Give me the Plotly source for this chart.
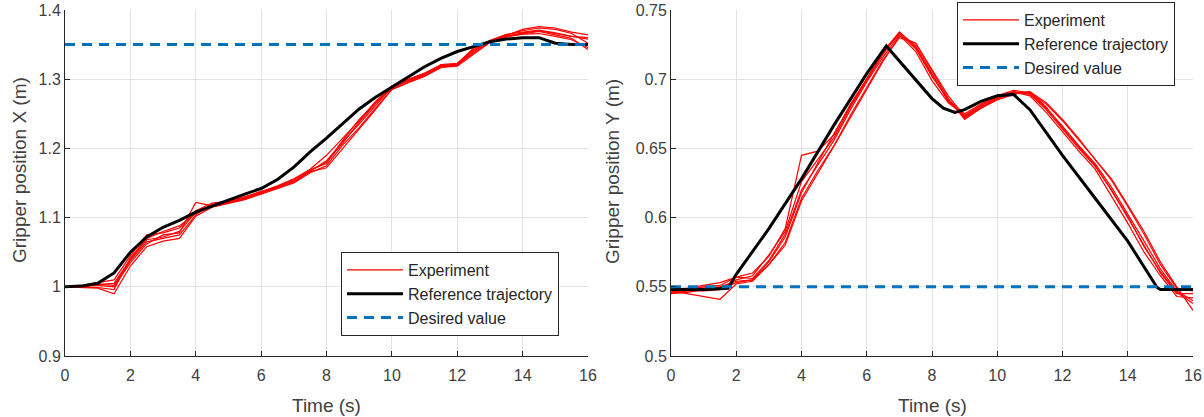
import plotly.graph_objects as go

# ---------------- data ----------------
t_exp = [0, 0.5, 1, 1.5, 2, 2.5, 3, 3.5, 4, 4.5, 5, 5.5, 6, 6.5, 7, 7.5, 8,
         8.5, 9, 9.5, 10, 10.5, 11, 11.5, 12, 12.5, 13, 13.5, 14, 14.5, 15, 15.5, 16]

# Gripper X (m) - experiments
x_exp1 = [1.000,1.002,1.006,1.010,1.045,1.075,1.078,1.085,1.110,1.121,1.124,1.130,1.138,1.145,1.155,1.170,1.190,1.215,1.240,1.268,1.290,1.300,1.309,1.320,1.322,1.345,1.356,1.364,1.370,1.374,1.372,1.366,1.352]
x_exp2 = [1.000,1.000,1.003,1.005,1.040,1.068,1.072,1.080,1.108,1.118,1.122,1.128,1.136,1.143,1.152,1.167,1.182,1.210,1.235,1.262,1.288,1.298,1.306,1.318,1.320,1.342,1.355,1.362,1.367,1.370,1.366,1.361,1.358]
x_exp3 = [1.000,0.999,0.998,0.990,1.030,1.058,1.066,1.070,1.102,1.115,1.120,1.126,1.134,1.142,1.150,1.165,1.175,1.205,1.230,1.258,1.285,1.295,1.304,1.317,1.321,1.338,1.354,1.363,1.372,1.376,1.374,1.368,1.364]
x_exp4 = [1.000,1.001,1.002,1.000,1.035,1.062,1.075,1.078,1.122,1.117,1.121,1.127,1.135,1.144,1.153,1.168,1.180,1.208,1.238,1.265,1.289,1.297,1.307,1.319,1.322,1.340,1.355,1.361,1.365,1.366,1.362,1.357,1.346]
x_exp5 = [1.000,1.000,0.999,0.996,1.042,1.070,1.080,1.088,1.106,1.116,1.123,1.129,1.137,1.146,1.156,1.169,1.178,1.212,1.242,1.266,1.287,1.299,1.308,1.321,1.323,1.343,1.356,1.365,1.368,1.371,1.367,1.362,1.360]
x_exp6 = [1.000,1.000,1.004,1.002,1.038,1.065,1.070,1.075,1.104,1.119,1.122,1.128,1.136,1.144,1.152,1.166,1.172,1.200,1.228,1.256,1.286,1.296,1.305,1.317,1.319,1.336,1.353,1.362,1.366,1.369,1.364,1.359,1.343]

# Gripper X reference trajectory
t_ref_x = t_exp
x_ref = [1.000,1.001,1.005,1.020,1.050,1.072,1.086,1.096,1.108,1.117,1.126,1.134,1.142,1.155,1.173,1.195,1.215,1.236,1.257,1.274,1.289,1.303,1.318,1.330,1.340,1.347,1.354,1.358,1.360,1.360,1.352,1.350,1.350]
x_desired = 1.35

# Gripper Y (m) - experiments
y_exp1 = [0.546,0.548,0.550,0.551,0.557,0.560,0.572,0.592,0.645,0.648,0.660,0.682,0.700,0.719,0.733,0.722,0.702,0.685,0.675,0.682,0.688,0.692,0.690,0.679,0.666,0.652,0.639,0.622,0.603,0.583,0.563,0.547,0.540]
y_exp2 = [0.545,0.546,0.548,0.549,0.555,0.558,0.573,0.590,0.626,0.642,0.658,0.680,0.699,0.718,0.734,0.724,0.704,0.684,0.673,0.681,0.687,0.691,0.689,0.678,0.664,0.650,0.637,0.620,0.600,0.580,0.560,0.545,0.545]
y_exp3 = [0.547,0.545,0.543,0.541,0.552,0.554,0.566,0.582,0.614,0.634,0.652,0.672,0.693,0.713,0.731,0.726,0.706,0.686,0.671,0.679,0.686,0.690,0.690,0.682,0.670,0.656,0.642,0.628,0.609,0.590,0.568,0.550,0.533]
y_exp4 = [0.548,0.549,0.551,0.553,0.557,0.556,0.569,0.588,0.620,0.638,0.656,0.678,0.698,0.716,0.732,0.720,0.699,0.683,0.674,0.681,0.687,0.691,0.688,0.676,0.662,0.648,0.635,0.616,0.596,0.575,0.558,0.543,0.542]
y_exp5 = [0.546,0.547,0.549,0.550,0.554,0.555,0.568,0.586,0.618,0.640,0.661,0.681,0.701,0.720,0.734,0.723,0.703,0.685,0.672,0.680,0.686,0.690,0.691,0.680,0.665,0.651,0.638,0.619,0.601,0.579,0.561,0.546,0.538]
y_exp6 = [0.545,0.547,0.547,0.548,0.553,0.555,0.566,0.580,0.612,0.632,0.652,0.674,0.694,0.714,0.730,0.726,0.707,0.688,0.673,0.679,0.685,0.689,0.691,0.683,0.671,0.657,0.642,0.627,0.608,0.588,0.566,0.549,0.547]

# Gripper Y reference trajectory
t_ref_y = [0, 1, 1.75, 2, 3, 4, 5, 6, 6.6, 7, 7.5, 8, 8.35, 8.7, 9, 9.5, 10, 10.5, 11, 12, 13, 14, 14.9, 15, 16]
y_ref = [0.548,0.548,0.549,0.559,0.592,0.628,0.667,0.704,0.724,0.713,0.699,0.686,0.679,0.676,0.678,0.684,0.688,0.689,0.678,0.645,0.614,0.583,0.5495,0.548,0.548]
y_desired = 0.55

x_ticks = [0, 2, 4, 6, 8, 10, 12, 14, 16]
left_ticks = [0.9, 1.0, 1.1, 1.2, 1.3, 1.4]
left_tick_text = ["0.9", "1", "1.1", "1.2", "1.3", "1.4"]
right_ticks = [0.5, 0.55, 0.6, 0.65, 0.7, 0.75]
right_tick_text = ["0.5", "0.55", "0.6", "0.65", "0.7", "0.75"]

# ---------------- figure ----------------
RED = "#ff0000"
BLUE = "#0072BD"
FONT = "Liberation Sans, Arial, sans-serif"
TXT = "#404040"

fig = go.Figure()

def add_panel(xa, ya, legend, exps, t_ref, ref, desired):
    for i, e in enumerate(exps):
        fig.add_trace(go.Scatter(
            x=t_exp, y=e, mode="lines", line=dict(color=RED, width=1.2),
            name="Experiment", legendgroup=legend + "exp", showlegend=(i == 0),
            xaxis=xa, yaxis=ya, legend=legend))
    fig.add_trace(go.Scatter(
        x=t_ref, y=ref, mode="lines", line=dict(color="#000000", width=3),
        name="Reference trajectory", xaxis=xa, yaxis=ya, legend=legend))
    fig.add_trace(go.Scatter(
        x=[0, 16], y=[desired, desired], mode="lines",
        line=dict(color=BLUE, width=3, dash="10px,7px"),
        name="Desired value", xaxis=xa, yaxis=ya, legend=legend))

add_panel("x", "y", "legend", [x_exp1, x_exp2, x_exp3, x_exp4, x_exp5, x_exp6],
          t_ref_x, x_ref, x_desired)
add_panel("x2", "y2", "legend2", [y_exp1, y_exp2, y_exp3, y_exp4, y_exp5, y_exp6],
          t_ref_y, y_ref, y_desired)

axis_common = dict(
    showgrid=True, gridcolor="#e3e3e3", gridwidth=1,
    showline=True, linecolor="#262626", linewidth=1, mirror=False,
    ticks="inside", ticklen=5, tickcolor="#262626", tickwidth=1,
    tickfont=dict(family=FONT, size=16, color=TXT),
    zeroline=False, automargin=False,
)

y_dom = [61 / 417, 407 / 417]
leg_common = dict(xanchor="left", yanchor="top",
                  bgcolor="white", bordercolor="#262626", borderwidth=1,
                  font=dict(family=FONT, size=16, color="#262626"),
                  tracegroupgap=0, itemwidth=56)
fig.update_layout(
    width=1204, height=417,
    margin=dict(l=0, r=0, t=0, b=0),
    paper_bgcolor="white", plot_bgcolor="white",
    font=dict(family=FONT, color=TXT),
    xaxis=dict(domain=[65 / 1204, 588 / 1204], range=[0, 16], tickvals=x_ticks,
               anchor="y", ticklabelstandoff=5, **axis_common),
    yaxis=dict(domain=y_dom, range=[0.9, 1.4], tickvals=left_ticks,
               ticktext=left_tick_text, anchor="x", **axis_common),
    xaxis2=dict(domain=[671 / 1204, 1193 / 1204], range=[0, 16], tickvals=x_ticks,
                anchor="y2", ticklabelstandoff=5, **axis_common),
    yaxis2=dict(domain=y_dom, range=[0.5, 0.75], tickvals=right_ticks,
                ticktext=right_tick_text, anchor="x2", **axis_common),
    legend=dict(x=341 / 1204, y=1 - 252 / 417, **leg_common),
    legend2=dict(x=957 / 1204, y=1 - 2 / 417, **leg_common),
    showlegend=True,
)

ann_font = dict(family=FONT, size=19, color=TXT)
fig.add_annotation(text="Gripper position X (m)", xref="paper", yref="paper",
                   x=19 / 1204, y=1 - 170 / 417, textangle=-90, showarrow=False,
                   font=ann_font, xanchor="center", yanchor="middle")
fig.add_annotation(text="Gripper position Y (m)", xref="paper", yref="paper",
                   x=612 / 1204, y=1 - 172 / 417, textangle=-90, showarrow=False,
                   font=ann_font, xanchor="center", yanchor="middle")
fig.add_annotation(text="Time (s)", xref="paper", yref="paper",
                   x=326 / 1204, y=1 - 405 / 417, showarrow=False,
                   font=ann_font, xanchor="center", yanchor="middle")
fig.add_annotation(text="Time (s)", xref="paper", yref="paper",
                   x=932 / 1204, y=1 - 405 / 417, showarrow=False,
                   font=ann_font, xanchor="center", yanchor="middle")

fig.write_html("out.html")
